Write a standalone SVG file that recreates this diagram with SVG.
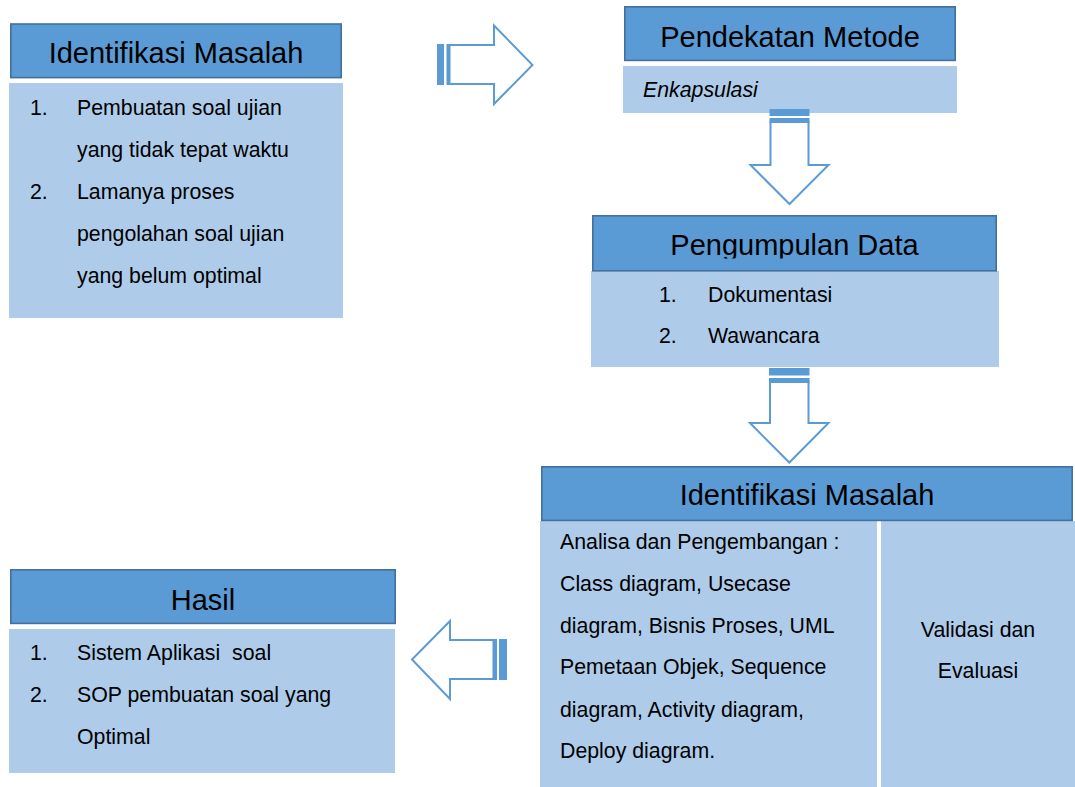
<svg xmlns="http://www.w3.org/2000/svg" width="1075" height="787" viewBox="0 0 1075 787">
<style>
.hdr{fill:#5B9BD5;stroke:#41719C;stroke-width:1.6}
.body{fill:#AECCEA}
.title{font-family:"Liberation Sans",Arial,sans-serif;font-size:29px;fill:#000;text-anchor:middle}
.txt{font-family:"Liberation Sans",Arial,sans-serif;font-size:21.3px;fill:#000;white-space:pre}
.ctr{text-anchor:middle}
.arr{fill:#fff;stroke:#5B9BD5;stroke-width:2;stroke-linejoin:miter}
.stripe{fill:#5B9BD5}
</style>
<defs>
<clipPath id="clipPD"><rect x="592" y="215" width="405" height="43.5"/></clipPath>
</defs>
<rect width="1075" height="787" fill="#fff"/>

<g id="identifikasi-masalah-1">
<rect class="body" x="9" y="83" width="334" height="235"/>
<rect class="hdr" x="10.8" y="24" width="330.4" height="53.6"/>
<text class="title" x="176" y="63">Identifikasi Masalah</text>
<text class="txt" x="30" y="115">1.</text>
<text class="txt" x="77" y="115">Pembuatan soal ujian</text>
<text class="txt" x="77" y="157">yang tidak tepat waktu</text>
<text class="txt" x="30" y="199">2.</text>
<text class="txt" x="77" y="199">Lamanya proses</text>
<text class="txt" x="77" y="241">pengolahan soal ujian</text>
<text class="txt" x="77" y="283">yang belum optimal</text>
</g>

<g id="pendekatan-metode">
<rect class="body" x="623" y="66" width="334" height="47"/>
<rect class="hdr" x="624.8" y="6.8" width="330.4" height="53.6"/>
<text class="title" x="790" y="47">Pendekatan Metode</text>
<text class="txt" x="643" y="97" font-style="italic">Enkapsulasi</text>
</g>

<g id="pengumpulan-data">
<rect class="body" x="591" y="271" width="408" height="96"/>
<rect class="hdr" x="592.8" y="215.8" width="403.4" height="55"/>
<text class="title" x="794.5" y="255" clip-path="url(#clipPD)">Pengumpulan Data</text>
<text class="txt" x="659" y="302">1.</text>
<text class="txt" x="708" y="302">Dokumentasi</text>
<text class="txt" x="659" y="343">2.</text>
<text class="txt" x="708" y="343">Wawancara</text>
</g>

<g id="identifikasi-masalah-2">
<rect class="body" x="540" y="521" width="337" height="266"/>
<rect class="body" x="881" y="521" width="194" height="266"/>
<rect class="hdr" x="541.8" y="466.8" width="530.4" height="53.6"/>
<text class="title" x="807" y="505">Identifikasi Masalah</text>
<text class="txt" x="560" y="549">Analisa dan Pengembangan :</text>
<text class="txt" x="560" y="591">Class diagram, Usecase</text>
<text class="txt" x="560" y="633">diagram, Bisnis Proses, UML</text>
<text class="txt" x="560" y="674">Pemetaan Objek, Sequence</text>
<text class="txt" x="560" y="717">diagram, Activity diagram,</text>
<text class="txt" x="560" y="758">Deploy diagram.</text>
<text class="txt ctr" x="978" y="637">Validasi dan</text>
<text class="txt ctr" x="978" y="678">Evaluasi</text>
</g>

<g id="hasil">
<rect class="body" x="9" y="629" width="386" height="144"/>
<rect class="hdr" x="10.8" y="569.8" width="384.4" height="53.6"/>
<text class="title" x="203" y="610">Hasil</text>
<text class="txt" x="30" y="660">1.</text>
<text class="txt" x="77" y="660" xml:space="preserve">Sistem Aplikasi  soal</text>
<text class="txt" x="30" y="702">2.</text>
<text class="txt" x="77" y="702">SOP pembuatan soal yang</text>
<text class="txt" x="77" y="744">Optimal</text>
</g>

<g id="connectors">
<g id="arrow-right">
<polygon class="arr" points="449,45 494,45 494,25.5 532.5,65 494,104 494,84 449,84"/>
<rect class="stripe" x="437" y="44" width="7" height="41"/>
<rect class="stripe" x="446.5" y="44" width="4" height="41"/>
</g>
<g id="arrow-down-1">
<polygon class="arr" points="770.5,122 808.5,122 808.5,165 828.5,165 789.5,204 750.5,165 770.5,165"/>
<rect class="stripe" x="769.5" y="109" width="40" height="7"/>
<rect class="stripe" x="769.5" y="118" width="40" height="5"/>
</g>
<g id="arrow-down-2">
<polygon class="arr" points="770,381 808.5,381 808.5,423 828.5,423 789.3,462.5 750,423 770,423"/>
<rect class="stripe" x="769" y="368" width="40.5" height="7.5"/>
<rect class="stripe" x="769" y="378" width="40.5" height="5"/>
</g>
<g id="arrow-left">
<polygon class="arr" points="495,640 450,640 450,621 412,659.5 450,699 450,679 495,679"/>
<rect class="stripe" x="499" y="639" width="8" height="41"/>
<rect class="stripe" x="492.5" y="639" width="4.5" height="41"/>
</g>
</g>
</svg>
